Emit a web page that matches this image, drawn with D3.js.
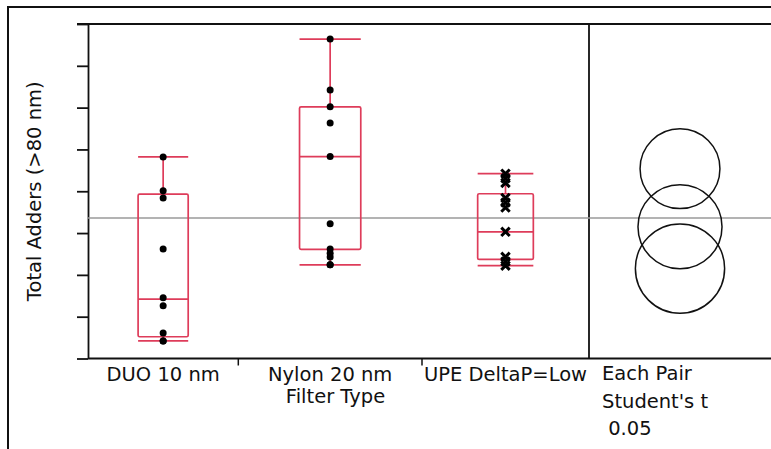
<!DOCTYPE html>
<html>
<head>
<meta charset="utf-8">
<script src="https://cdn.jsdelivr.net/npm/d3@7"></script>
<style>
  body { margin: 0; background: #fff; }
  svg { display: block; }
  text { font-family: "DejaVu Sans", sans-serif; fill: #111; }
</style>
</head>
<body>
<div id="chart"></div>
<script>
// groups and sample sizes (x widths are proportional to n, as JMP does)
var groups = ["DUO 10 nm", "Nylon 20 nm", "UPE DeltaP=Low"];
var counts = [9, 11, 10];

var duoValues = [48.2, 40.1, 38.4, 26.2, 14.5, 12.6, 6.1, 4.2, 4.2];
var nylonValues = [76.4, 64.2, 60.2, 56.3, 48.3, 32.2, 26.2, 25.2, 24.3, 22.4, 22.4];
var upeValues = [44.2, 43.1, 42.0, 38.4, 37.3, 36.1, 30.3, 24.3, 23.2, 22.2];

// box plot summaries
var boxLow = [4.2, 22.4, 22.2];
var boxQ1 = [5.2, 26.1, 23.7];
var boxMedian = [14.2, 48.3, 30.3];
var boxQ3 = [39.3, 60.2, 39.4];
var boxHigh = [48.2, 76.4, 44.2];
var markerShape = ["dot", "dot", "cross"];

var grandMean = 33.6;

// comparison circles (Each Pair, Student's t, 0.05)
var circleMean = [21.5, 45.4, 31.5];
var circleRadius = [10.67, 9.55, 10.05];

var yTicks = d3.range(0, 81, 10);

var width = 771, height = 449;
var plot = { left: 88, top: 24, bottom: 358.5, split: 589, right: 771 };
var red = "#de3c5a";

var svg = d3.select("#chart").append("svg")
  .attr("width", width)
  .attr("height", height);

// outer frame (left + top)
svg.append("path")
  .attr("d", "M8,449V7H771")
  .attr("fill", "none")
  .attr("stroke", "#111")
  .attr("stroke-width", 2);

var y = d3.scaleLinear().domain([0, 80]).range([plot.bottom, plot.top]);

// cumulative counts -> pixel positions
var cum = [0];
counts.forEach(function(c, i) { cum.push(cum[i] + c); });
var x = d3.scaleLinear().domain([0, d3.sum(counts)]).range([plot.left, plot.split]);

var values = [duoValues, nylonValues, upeValues];
var data = groups.map(function(g, i) {
  return {
    name: g,
    x0: x(cum[i]),
    x1: x(cum[i + 1]),
    cx: x((cum[i] + cum[i + 1]) / 2),
    values: values[i],
    low: boxLow[i], q1: boxQ1[i], med: boxMedian[i], q3: boxQ3[i], high: boxHigh[i],
    shape: markerShape[i]
  };
});

// top and bottom frame lines of the plot
svg.append("line")
  .attr("x1", plot.left - 11).attr("x2", plot.right)
  .attr("y1", plot.top).attr("y2", plot.top)
  .attr("stroke", "#111").attr("stroke-width", 1.8);
svg.append("line")
  .attr("x1", plot.left).attr("x2", plot.right)
  .attr("y1", plot.bottom).attr("y2", plot.bottom)
  .attr("stroke", "#111").attr("stroke-width", 1.8);

// y axis, labels hidden
var yAxis = svg.append("g")
  .attr("transform", "translate(" + plot.left + ",0)")
  .call(d3.axisLeft(y).tickValues(yTicks).tickSize(11).tickSizeOuter(0).tickFormat(""));
yAxis.selectAll("path, line").attr("stroke", "#111").attr("stroke-width", 1.8);

// x axis ticks at group boundaries
svg.append("g").selectAll("line")
  .data(cum.slice(1, -1))
  .enter().append("line")
  .attr("x1", function(d) { return x(d); })
  .attr("x2", function(d) { return x(d); })
  .attr("y1", plot.bottom)
  .attr("y2", plot.bottom + 7)
  .attr("stroke", "#111")
  .attr("stroke-width", 1.5);

// separator between the box plots and the comparison circles
svg.append("line")
  .attr("x1", plot.split).attr("x2", plot.split)
  .attr("y1", plot.top).attr("y2", plot.bottom)
  .attr("stroke", "#111").attr("stroke-width", 1.8);

// grand mean
svg.append("line")
  .attr("x1", plot.left).attr("x2", plot.right)
  .attr("y1", y(grandMean)).attr("y2", y(grandMean))
  .attr("stroke", "#9a9a9a").attr("stroke-width", 1.5);

// box plots
var box = svg.append("g").selectAll(".box")
  .data(data)
  .enter().append("g")
  .attr("class", "box");

box.each(function(d) {
  var g = d3.select(this);
  var w = (d.x1 - d.x0) / 3;
  g.append("line")
    .attr("x1", d.cx).attr("x2", d.cx)
    .attr("y1", y(d.high)).attr("y2", y(d.q3))
    .attr("stroke", red).attr("stroke-width", 1.7);
  g.append("line")
    .attr("x1", d.cx).attr("x2", d.cx)
    .attr("y1", y(d.q1)).attr("y2", y(d.low))
    .attr("stroke", red).attr("stroke-width", 1.7);
  [d.high, d.low, d.med].forEach(function(v) {
    g.append("line")
      .attr("x1", d.cx - w / 2).attr("x2", d.cx + w / 2)
      .attr("y1", y(v)).attr("y2", y(v))
      .attr("stroke", red).attr("stroke-width", 1.7);
  });
  g.append("rect")
    .attr("x", d.cx - w / 2)
    .attr("y", y(d.q3))
    .attr("width", w)
    .attr("height", y(d.q1) - y(d.q3))
    .attr("rx", 1.5)
    .attr("fill", "none")
    .attr("stroke", red)
    .attr("stroke-width", 1.7);
});

// points
box.each(function(d) {
  var g = d3.select(this);
  if (d.shape === "dot") {
    g.selectAll("circle")
      .data(d.values)
      .enter().append("circle")
      .attr("cx", d.cx)
      .attr("cy", function(v) { return y(v); })
      .attr("r", 3.5)
      .attr("fill", "#000");
  } else {
    g.selectAll("path.pt")
      .data(d.values)
      .enter().append("path")
      .attr("class", "pt")
      .attr("d", d3.symbol().type(d3.symbolX).size(48))
      .attr("transform", function(v) { return "translate(" + d.cx + "," + y(v) + ")"; })
      .attr("stroke", "#000")
      .attr("stroke-width", 3)
      .attr("fill", "none");
  }
});

// group labels
svg.append("g").selectAll("text")
  .data(data)
  .enter().append("text")
  .attr("x", function(d) { return d.cx; })
  .attr("y", 381)
  .attr("text-anchor", "middle")
  .style("font-size", "19.5px")
  .text(function(d) { return d.name; });

svg.append("text")
  .attr("x", (plot.left + plot.split) / 2 - 3)
  .attr("y", 403)
  .attr("text-anchor", "middle")
  .style("font-size", "19.5px")
  .text("Filter Type");

// y title
svg.append("text")
  .attr("transform", "translate(41," + (plot.top + plot.bottom) / 2 + ") rotate(-90)")
  .attr("text-anchor", "middle")
  .style("font-size", "19.5px")
  .text("Total Adders (>80 nm)");

// comparison circles
var circleX = (plot.split + plot.right) / 2;
svg.append("g").selectAll("circle")
  .data(circleMean)
  .enter().append("circle")
  .attr("cx", circleX)
  .attr("cy", function(d) { return y(d); })
  .attr("r", function(d, i) { return y(0) - y(circleRadius[i]); })
  .attr("fill", "none")
  .attr("stroke", "#111")
  .attr("stroke-width", 1.5);

var notes = ["Each Pair", "Student's t", " 0.05"];
svg.append("g").selectAll("text")
  .data(notes)
  .enter().append("text")
  .attr("x", 602)
  .attr("y", function(d, i) { return 380 + i * 27.5; })
  .style("font-size", "19.5px")
  .style("white-space", "pre")
  .attr("xml:space", "preserve")
  .text(function(d) { return d; });
</script>
</body>
</html>
